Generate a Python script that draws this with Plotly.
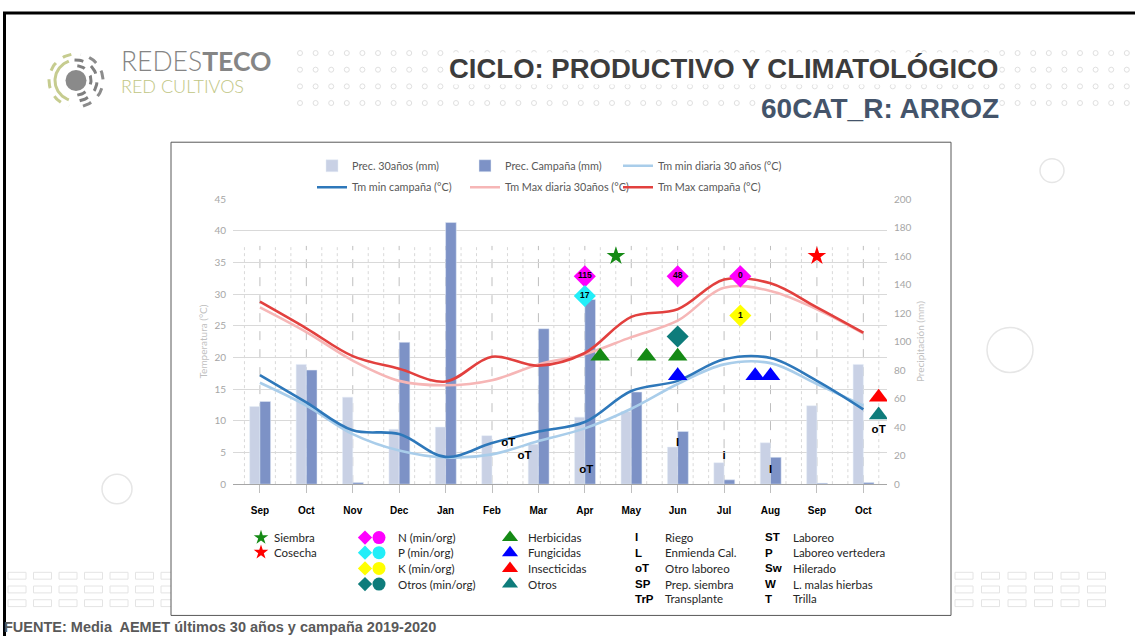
import numpy as np
import plotly.graph_objects as go

W, H = 1135, 642

# ---- data ----
MONTHS = ["Sep", "Oct", "Nov", "Dec", "Jan", "Feb", "Mar", "Apr", "May", "Jun", "Jul", "Aug", "Sep", "Oct"]
PREC_30 = [54.5, 84, 61, 38.5, 40, 34, 28, 47, 51, 26, 15, 29, 55, 84]
PREC_CAMP = [58, 80, 1.2, 99.5, 183.5, 0, 109, 129.5, 64.6, 37, 3, 18.8, 0.7, 1.2]
TMIN_30 = [16.0, 12.4, 7.9, 5.3, 4.2, 4.7, 6.8, 8.8, 11.9, 15.8, 18.9, 19.1, 15.8, 12.4]
TMIN_CAMP = [17.2, 12.9, 8.5, 7.9, 4.3, 6.5, 8.3, 9.8, 14.7, 16.3, 19.7, 19.9, 16.3, 11.8]
TMAX_30 = [27.9, 24.0, 19.5, 16.3, 15.6, 16.4, 18.9, 20.5, 23.2, 25.8, 31.0, 30.5, 27.6, 23.8]
TMAX_CAMP = [28.8, 24.6, 20.2, 18.2, 16.2, 20.1, 18.7, 20.7, 26.4, 27.6, 32.3, 31.7, 27.9, 23.9]

# events: x in months from the first Sep, y in degC
SIEMBRA_X, SIEMBRA_Y = [7.67], [36]
COSECHA_X, COSECHA_Y = [12.0], [36]
N_X, N_Y, N_LBL = [7.0, 9.0, 10.35], [32.8, 32.8, 32.8], ["115", "48", "0"]
P_X, P_Y, P_LBL = [7.0], [29.7], ["17"]
K_X, K_Y, K_LBL = [10.35], [26.6], ["1"]
OFERT_X, OFERT_Y = [9.0], [23.3]
HERB_X, HERB_Y = [7.33, 8.33, 9.0], [20.2, 20.2, 20.2]
FUNG_X, FUNG_Y = [9.0, 10.67, 11.0], [17.1, 17.1, 17.1]
INSECT_X, INSECT_Y = [13.33], [13.7]
OTRAT_X, OTRAT_Y = [13.33], [10.9]
OT_X, OT_Y = [5.35, 5.7, 7.03, 13.33], [6.5, 4.4, 2.2, 8.5]
RIEGO_X, RIEGO_Y, RIEGO_LBL = [9.0, 10.0, 11.0], [6.5, 4.4, 2.2], ["I", "i", "I"]

FERT_LABELS = ["N (min/org)", "P (min/org)", "K (min/org)", "Otros (min/org)"]
FERT_COLORS = ["#FF00FF", "#22EEF8", "#FFFF00", "#0E7C7B"]
TRAT_LABELS = ["Herbicidas", "Fungicidas", "Insecticidas", "Otros"]
TRAT_COLORS = ["#158A15", "#0000FF", "#FF0000", "#0E7C7B"]
CODES_1 = ["I", "L", "oT", "SP", "TrP"]
NAMES_1 = ["Riego", "Enmienda Cal.", "Otro laboreo", "Prep. siembra", "Transplante"]
CODES_2 = ["ST", "P", "Sw", "W", "T"]
NAMES_2 = ["Laboreo", "Laboreo vertedera", "Hilerado", "L. malas hierbas", "Trilla"]

GREEN, RED = "#158A15", "#FF0000"
TEXT = "#262626"
AXIS_GREY = "#A6A6A6"
CAL = "Lato, sans-serif"
ARIAL = "Liberation Sans, Arial, sans-serif"


def px(x):
    return x / W


def py(y):
    return 1 - y / H


xi = list(range(len(MONTHS)))
fig = go.Figure()

# precipitation bars (right axis)
fig.add_trace(go.Bar(x=xi, y=PREC_30, name="Prec. 30años (mm)", marker_color="#C9D1E5",
                     width=0.22, offset=-0.22, legend="legend"))
fig.add_trace(go.Bar(x=xi, y=PREC_CAMP, name="Prec. Campaña (mm)", marker_color="#7D92C6",
                     width=0.23, offset=0, legend="legend"))

# temperature lines (left axis)
lines = [
    ("Tm min diaria 30 años (°C)", TMIN_30, "#A9CDEA", "legend", 150),
    ("Tm min campaña (°C)", TMIN_CAMP, "#2E78BA", "legend2", 108),
    ("Tm Max diaria 30años (°C)", TMAX_30, "#F6B6B6", "legend2", 108),
    ("Tm Max campaña (°C)", TMAX_CAMP, "#E2403E", "legend2", 150),
]
for name, vals, col, leg, lw in lines:
    fig.add_trace(go.Scatter(x=xi, y=vals, name=name, mode="lines", yaxis="y2", legend=leg, legendwidth=lw,
                             line=dict(color=col, width=2.6, shape="spline", smoothing=1.0)))


def markers(x, y, symbol, color, size, text=None):
    fig.add_trace(go.Scatter(
        x=x, y=y, yaxis="y2", showlegend=False,
        mode="markers+text" if text else "markers", text=text, textposition="middle center",
        textfont=dict(family=ARIAL, size=8.5, color="black", weight="bold"),
        marker=dict(symbol=symbol, color=color, size=size, line=dict(width=0))))


markers(SIEMBRA_X, SIEMBRA_Y, "star", GREEN, 14)
markers(COSECHA_X, COSECHA_Y, "star", RED, 14)
markers(N_X, N_Y, "diamond", FERT_COLORS[0], 17, N_LBL)
markers(P_X, P_Y, "diamond", FERT_COLORS[1], 17, P_LBL)
markers(K_X, K_Y, "diamond", FERT_COLORS[2], 17, K_LBL)
markers(OFERT_X, OFERT_Y, "diamond", FERT_COLORS[3], 17)
markers(HERB_X, HERB_Y, "triangle-up", TRAT_COLORS[0], 17)
markers(FUNG_X, FUNG_Y, "triangle-up", TRAT_COLORS[1], 17)
markers(INSECT_X, INSECT_Y, "triangle-up", TRAT_COLORS[2], 17)
markers(OTRAT_X, OTRAT_Y, "triangle-up", TRAT_COLORS[3], 17)

for xs, ys, lbl in [(OT_X, OT_Y, ["oT"] * len(OT_X)), (RIEGO_X, RIEGO_Y, RIEGO_LBL)]:
    fig.add_trace(go.Scatter(x=xs, y=ys, yaxis="y2", mode="text", text=lbl, showlegend=False,
                             textfont=dict(family=ARIAL, size=11.5, color="black", weight="bold")))

# ---- bottom symbol legend, drawn on a pixel-space overlay axis ----
fig.add_trace(go.Scatter(x=[261, 261], y=[541.5, 556.5], xaxis="x3", yaxis="y3", mode="markers",
                         showlegend=False, marker=dict(symbol="star", size=11, color=[GREEN, RED])))
rows4 = [541.5, 557, 573, 589]
fig.add_trace(go.Scatter(x=[365] * 4, y=rows4, xaxis="x3", yaxis="y3", mode="markers", showlegend=False,
                         marker=dict(symbol="diamond", size=11, color=FERT_COLORS)))
fig.add_trace(go.Scatter(x=[379] * 4, y=rows4, xaxis="x3", yaxis="y3", mode="markers", showlegend=False,
                         marker=dict(symbol="circle", size=13, color=FERT_COLORS)))
fig.add_trace(go.Scatter(x=[510] * 4, y=rows4, xaxis="x3", yaxis="y3", mode="markers", showlegend=False,
                         marker=dict(symbol="triangle-up", size=14, color=TRAT_COLORS)))

# logo
cx, cy = 76, 75
fig.add_trace(go.Scatter(x=[cx], y=[cy], xaxis="x3", yaxis="y3", mode="markers", showlegend=False,
                         marker=dict(size=21, color="#8A8A8A")))
for r, a0, a1, col, dash in [(15, -85, 85, "#7F7F7F", "dash"), (21, -80, 95, "#7F7F7F", "dash"),
                             (27, -75, 80, "#8C8C8C", "dash"), (21, 110, 250, "#C6CC8F", "solid"),
                             (27, 100, 255, "#C6CC8F", "dash")]:
    t = np.radians(np.linspace(a0, a1, 50))
    fig.add_trace(go.Scatter(x=cx + r * np.cos(t), y=cy - r * np.sin(t), xaxis="x3", yaxis="y3",
                             mode="lines", showlegend=False, line=dict(color=col, width=3, dash=dash)))

# dotted header pattern
dx = np.arange(300, 1135, 15.6)
dots_x = np.concatenate([dx] * 4)
dots_y = np.repeat([47, 64, 81, 98], len(dx))
fig.add_trace(go.Scatter(x=dots_x, y=dots_y, xaxis="x3", yaxis="y3", mode="markers", showlegend=False,
                         marker=dict(symbol="circle-open", size=5, color="#E0E0E0", line=dict(width=1))))

# ---- shapes: background decoration, chart box, vertical grid ----
shapes = []
for ccx, ccy, r in [(1052, 167, 12), (1010, 350, 23), (117, 492, 15)]:
    shapes.append(dict(type="circle", xref="paper", yref="paper", x0=px(ccx - r), x1=px(ccx + r),
                       y0=py(ccy + r), y1=py(ccy - r), line=dict(color="#E6E6E6", width=1.5), layer="below"))
for x0s in [np.arange(8, 170, 25.5), np.arange(955, 1100, 26.5)]:
    for gx in x0s:
        for gy in [577, 591, 605]:
            shapes.append(dict(type="rect", xref="paper", yref="paper", x0=px(gx), x1=px(gx + 18),
                               y0=py(gy + 7), y1=py(gy), line=dict(color="#E4E4E4", width=1), layer="below"))
shapes.append(dict(type="rect", xref="paper", yref="paper", x0=px(171), x1=px(951), y0=py(621), y1=py(138),
                   line=dict(color="#595959", width=1), fillcolor="white", layer="below"))
shapes.append(dict(type="line", xref="paper", yref="paper", x0=px(3), x1=1, y0=py(6), y1=py(6),
                   line=dict(color="black", width=3)))
shapes.append(dict(type="line", xref="paper", yref="paper", x0=px(4.5), x1=px(4.5), y0=0, y1=py(6),
                   line=dict(color="black", width=3)))
for k in range(-1, 41):
    major = k % 3 == 0
    shapes.append(dict(type="line", xref="x", yref="y2", x0=k / 3, x1=k / 3, y0=0, y1=37.6, layer="below",
                       line=dict(color="#BFBFBF" if major else "#D9D9D9", width=1,
                                 dash="dash" if major else "dot")))

# ---- annotations ----
ann = []


def label(x, y, text, size=11.5, color=TEXT, family=CAL, weight="normal", anchor="left", bg=None):
    ann.append(dict(x=px(x), y=py(y), xref="paper", yref="paper", text=text, showarrow=False,
                    xanchor=anchor, yanchor="middle", bgcolor=bg, borderpad=0,
                    font=dict(family=family, size=size, color=color, weight=weight)))


label(273, 541.5, "Siembra")
label(273, 556.5, "Cosecha")
for i, (fl, tl) in enumerate(zip(FERT_LABELS, TRAT_LABELS)):
    label(397, rows4[i], fl)
    label(527, rows4[i], tl)
rows5 = [541, 557, 573, 589, 604]
for i in range(5):
    label(634, rows5[i], CODES_1[i], color="black", family=ARIAL, weight="bold")
    label(664, rows5[i], NAMES_1[i])
    label(764, rows5[i], CODES_2[i], color="black", family=ARIAL, weight="bold")
    label(792, rows5[i], NAMES_2[i])

label(1000, 63, "CICLO: PRODUCTIVO Y CLIMATOLÓGICO", size=27.5, color="#3C3C3C", family=ARIAL,
      weight="bold", anchor="right", bg="white")
label(1000, 104, "60CAT_R: ARROZ", size=28, color="#44546A", family=ARIAL, weight="bold",
      anchor="right", bg="white")
label(120, 55, "REDES<b>TECO</b>", size=26.5, color="#858585", family=CAL, weight=300)
label(120, 81, "RED CULTIVOS", size=18, color="#BFC684", family=CAL, weight=300)
label(3, 633, "FUENTE: Media  AEMET últimos 30 años y campaña 2019-2020", size=14.5, color="#595959",
      family=ARIAL, weight="bold")

axis_font = dict(family=CAL, size=10, color=AXIS_GREY)
legend_common = dict(orientation="h", xanchor="left", x=px(312), yanchor="middle", entrywidth=108,
                     entrywidthmode="pixels", itemwidth=30, bgcolor="rgba(0,0,0,0)", traceorder="normal",
                     font=dict(family=CAL, size=10.8, color="#595959"))

fig.update_layout(
    width=W, height=H, margin=dict(l=0, r=0, t=0, b=0),
    paper_bgcolor="white", plot_bgcolor="rgba(0,0,0,0)",
    barmode="overlay", showlegend=True,
    legend=dict(legend_common, y=py(162)),
    legend2=dict(legend_common, y=py(184)),
    xaxis=dict(domain=[px(233), px(887)], range=[-0.58, 13.51], tickvals=xi, ticktext=MONTHS,
               tickfont=dict(family=ARIAL, size=10, color="black", weight="bold"),
               ticks="outside", ticklen=8, tickcolor="#BFBFBF", ticklabelstandoff=9,
               showline=True, linecolor=AXIS_GREY, showgrid=False, zeroline=False, anchor="y"),
    yaxis=dict(domain=[py(487), py(196)], range=[0, 200], dtick=20, side="right", anchor="x",
               showgrid=False, zeroline=False, tickfont=axis_font, ticklabelstandoff=6,
               title=dict(text="Precipitación (mm)", font=dict(family=CAL, size=10, color="#BFBFBF"),
                          standoff=6)),
    yaxis2=dict(overlaying="y", side="left", anchor="x", range=[0, 45], dtick=5,
                showgrid=True, gridcolor="#D9D9D9", gridwidth=1, zeroline=False, tickfont=axis_font,
                ticklabelstandoff=6,
                title=dict(text="Temperatura (°C)", font=dict(family=CAL, size=10, color="#BFBFBF"),
                           standoff=4)),
    xaxis3=dict(domain=[0, 1], range=[0, W], visible=False, anchor="y3", fixedrange=True),
    yaxis3=dict(domain=[0, 1], range=[H, 0], visible=False, anchor="x3", fixedrange=True),
    shapes=shapes,
    annotations=ann,
)

page_css = ("var s=document.createElement('style');"
            "s.textContent='html,body{margin:0;padding:0;overflow:hidden}';"
            "document.head.appendChild(s);")
fig.write_html("out.html", config={"displayModeBar": False}, post_script=page_css)
